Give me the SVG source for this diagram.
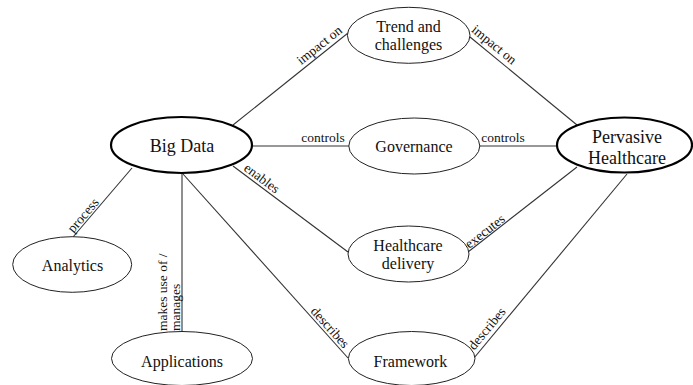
<svg xmlns="http://www.w3.org/2000/svg" width="693" height="385" viewBox="0 0 693 385">
<style>
.n{fill:#fff;stroke:#222;stroke-width:1}
.m{fill:#fff;stroke:#000;stroke-width:2.2}
text{font-family:'Liberation Serif','Times New Roman',Tinos,'DejaVu Serif',serif;fill:#111;text-anchor:middle}
.t{font-size:16px}
.b{font-size:18px}
.e{stroke:#333;stroke-width:1.1;fill:none}
.l{font-size:13.5px}
.s{text-anchor:start}
</style>
<rect width="693" height="385" fill="#fff"/>
<g id="connectors">
<line class="e" x1="233" y1="125" x2="348" y2="33"/>
<line class="e" x1="470" y1="37" x2="577" y2="125"/>
<line class="e" x1="252" y1="146" x2="349" y2="146"/>
<line class="e" x1="480" y1="146" x2="557" y2="146"/>
<line class="e" x1="233" y1="166" x2="348" y2="252"/>
<line class="e" x1="468" y1="252" x2="577" y2="167"/>
<line class="e" x1="132" y1="168" x2="73" y2="237"/>
<line class="e" x1="182" y1="173" x2="182" y2="332"/>
<line class="e" x1="183" y1="174" x2="348" y2="358"/>
<line class="e" x1="474" y1="358" x2="627" y2="174"/>
<text class="l" font-family="Liberation Serif, serif" transform="translate(324.6,51.7) rotate(-38.7)" y="-4">impact on</text>
<text class="l" transform="translate(488.2,52) rotate(39.4)" y="-5">impact on</text>
<text class="l" x="323" y="142">controls</text>
<text class="l" x="503" y="142">controls</text>
<text class="l" transform="translate(257.4,184.2) rotate(36.8)" y="-3">enables</text>
<text class="l" transform="translate(488.5,236) rotate(-37.9)" y="-1.5">executes</text>
<text class="l" transform="translate(493.8,334.2) rotate(-50.3)" y="-4.5">describes</text>
<text class="l" transform="translate(324.9,332) rotate(48.1)" y="-2.5">describes</text>
<text class="l" transform="translate(88,219.5) rotate(-49.5)" y="-2">process</text>
<text class="l s" transform="translate(166.5,331) rotate(-90)">makes use of /</text>
<text class="l s" transform="translate(180,331) rotate(-90)">manages</text>
</g>
<g id="big-data">
<ellipse class="m" cx="181.5" cy="145" rx="70.5" ry="28"/>
<text class="b" x="182" y="152">Big Data</text>
</g>
<g id="trend">
<ellipse class="n" cx="408.7" cy="35.3" rx="61.3" ry="28"/>
<text class="t" x="408.5" y="32">Trend and</text>
<text class="t" x="408.5" y="49.5">challenges</text>
</g>
<g id="governance">
<ellipse class="n" cx="414.3" cy="146" rx="65.5" ry="28"/>
<text class="t" x="414" y="152">Governance</text>
</g>
<g id="pervasive-healthcare">
<ellipse class="m" cx="624.5" cy="145" rx="67.5" ry="27.5"/>
<text class="b" x="627" y="142.5">Pervasive</text>
<text class="b" x="627" y="163.5">Healthcare</text>
</g>
<g id="healthcare-delivery">
<ellipse class="n" cx="408.5" cy="254" rx="60.5" ry="28"/>
<text class="t" x="408" y="251">Healthcare</text>
<text class="t" x="408" y="269">delivery</text>
</g>
<g id="framework">
<ellipse class="n" cx="411.7" cy="358.5" rx="63.3" ry="27"/>
<text class="t" x="410.5" y="366.5">Framework</text>
</g>
<g id="analytics">
<ellipse class="n" cx="72.2" cy="264.5" rx="59.5" ry="27.8"/>
<text class="t" x="72.5" y="271">Analytics</text>
</g>
<g id="applications">
<ellipse class="n" cx="182" cy="358.5" rx="70.5" ry="27"/>
<text class="t" x="182" y="366.5">Applications</text>
</g>
</svg>
